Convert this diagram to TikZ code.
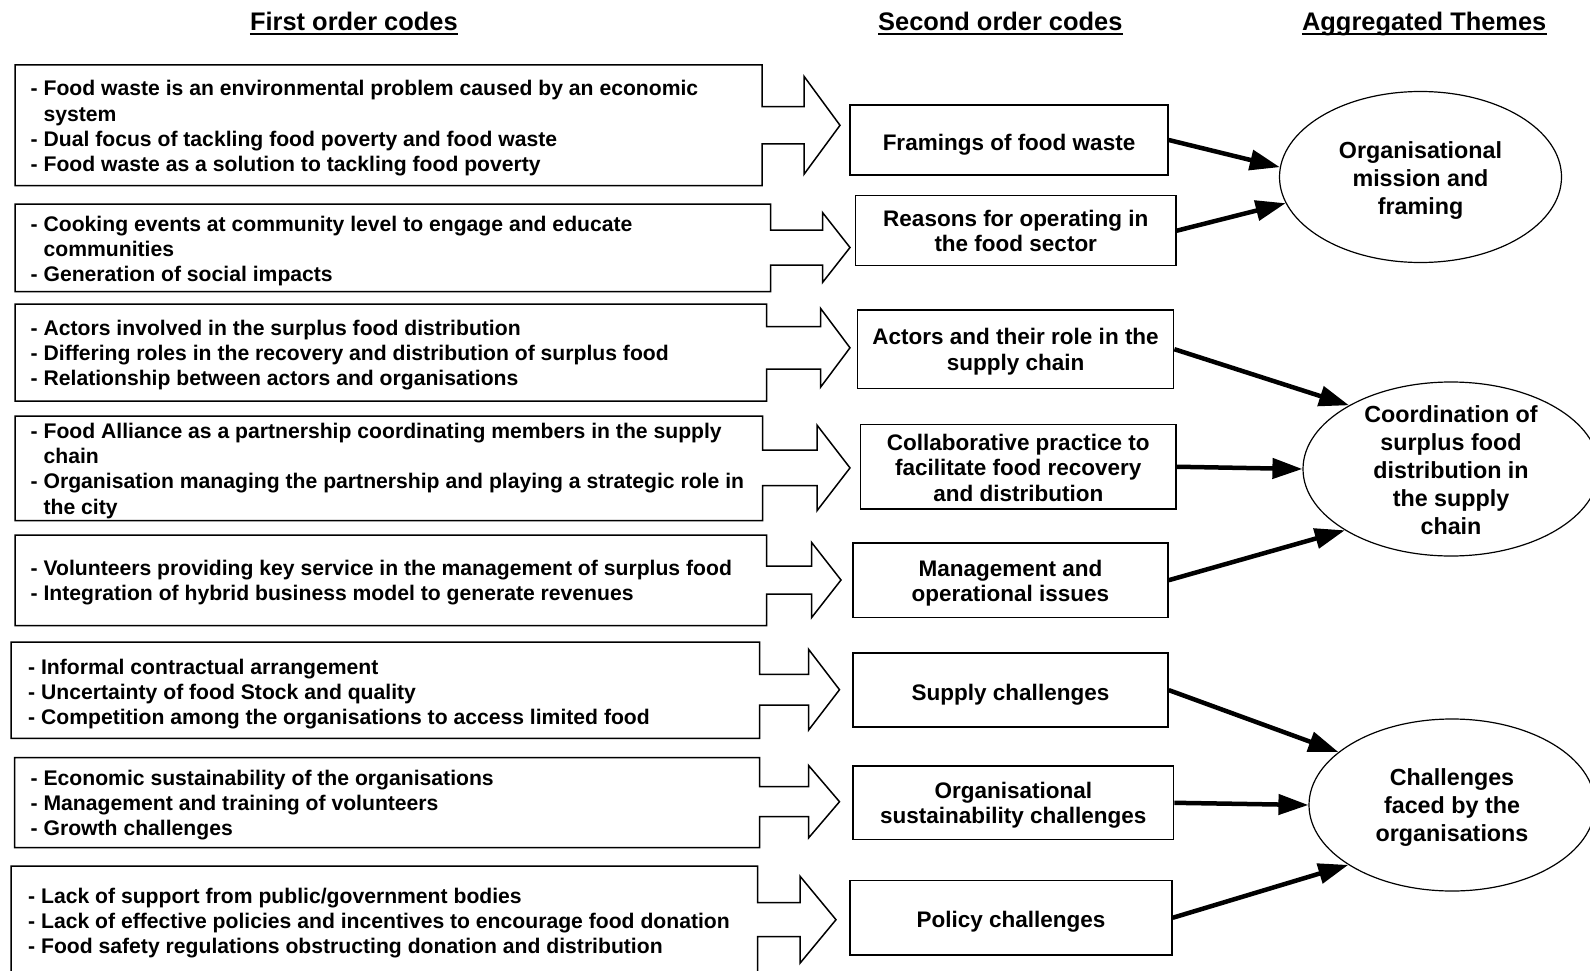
\documentclass[tikz,border=0pt]{standalone}
\usepackage{fontspec}
\setmainfont{Liberation Sans}
\usetikzlibrary{arrows.meta,shapes.geometric}

% block arrow outline: L T R B mid stemhalf headhalf headX tipX
\newcommand\blockarrowshape[9]{%
  \draw[boxline] (#1,#2) -- (#3,#2) -- (#3,{#5-#6}) -- (#8,{#5-#6}) -- (#8,{#5-#7})
    -- (#9,#5) -- (#8,{#5+#7}) -- (#8,{#5+#6}) -- (#3,{#5+#6}) -- (#3,#4) -- (#1,#4) -- cycle;}

\tikzset{
  boxline/.style={draw=black, line width=1.5pt, line join=miter},
  fo/.style={font=\bfseries\fontsize{21.15}{25.2}\selectfont, align=left, inner sep=0pt, anchor=north west},
  sobox/.style={draw, line width=1.5pt, inner sep=0pt},
  sotext/.style={font=\bfseries\fontsize{22.5}{25.6}\selectfont, align=center, inner sep=0pt},
  thbox/.style={draw, ellipse, line width=1.2pt, inner sep=0pt},
  thtext/.style={font=\bfseries\fontsize{23.3}{28}\selectfont, align=center, inner sep=0pt},
  hdr/.style={font=\bfseries\fontsize{25.4}{30}\selectfont, inner sep=0pt, anchor=base},
  conn/.style={line width=4.5pt, -{Triangle[length=30pt,width=20pt]}},
  uline/.style={line width=2.2pt},
}

\begin{document}
\begin{tikzpicture}[x=1pt,y=-1pt]
\useasboundingbox (0,0) rectangle (1590,971);
\fill[white] (0,0) rectangle (1590,971);
\clip (0,0) rectangle (1590,971);

% headers
\node[hdr] (h1) at (353.9,30.4) {First order codes};
\node[hdr] (h2) at (1000.3,30.4) {Second order codes};
\node[hdr] (h3) at (1424.2,30.4) {Aggregated Themes};
\foreach \h in {h1,h2,h3}
  \draw[uline] ([yshift=-3.6pt]\h.base west) -- ([yshift=-3.6pt]\h.base east);

% first order block arrows
\blockarrowshape{15}{65}{762}{185.7}{125.3}{18.7}{49}{804}{840}
\blockarrowshape{15}{204}{770.7}{291.7}{247.5}{17.5}{35}{822.5}{850}
\blockarrowshape{15}{304}{766.6}{401}{347.8}{21.2}{39.5}{820.5}{850}
\blockarrowshape{15}{416}{762.5}{520.5}{467.9}{17.8}{42.8}{817}{850}
\blockarrowshape{15}{535}{766.6}{625.6}{580}{14}{37.7}{811.5}{841}
\blockarrowshape{11}{642}{759.5}{738.3}{689.7}{15.3}{40.5}{808.5}{839.5}
\blockarrowshape{14.5}{757.5}{759.5}{847.5}{801.7}{15}{36.3}{808.5}{839.5}
\blockarrowshape{11}{866}{757.5}{995}{919.7}{17}{43.5}{800}{836}

% first order texts
\node[fo] (f1) at (30.5,80.3) {- Food waste is an environmental problem caused by an economic\\\phantom{- }system\\- Dual focus of tackling food poverty and food waste\\- Food waste as a solution to tackling food poverty};
\node[fo] (f2) at (30.5,215.7) {- Cooking events at community level to engage and educate\\\phantom{- }communities\\- Generation of social impacts};
\node[fo] (f3) at (30.5,320) {- Actors involved in the surplus food distribution\\- Differing roles in the recovery and distribution of surplus food\\- Relationship between actors and organisations};
\node[fo] (f4) at (30.5,423) {- Food Alliance as a partnership coordinating members in the supply\\\phantom{- }chain\\- Organisation managing the partnership and playing a strategic role in\\\phantom{- }the city};
\node[fo] (f5) at (30.5,560) {- Volunteers providing key service in the management of surplus food\\- Integration of hybrid business model to generate revenues};
\node[fo] (f6) at (28,658.5) {- Informal contractual arrangement\\- Uncertainty of food Stock and quality\\- Competition among the organisations to access limited food};
\node[fo] (f7) at (30.5,770) {- Economic sustainability of the organisations\\- Management and training of volunteers\\- Growth challenges};
\node[fo] (f8) at (28,887.5) {- Lack of support from public/government bodies\\- Lack of effective policies and incentives to encourage food donation\\- Food safety regulations obstructing donation and distribution};

% second order codes (boxes)
\node[sobox, minimum width=318pt, minimum height=70pt] (s1) at (1009,140) {};
\node[sobox, minimum width=320.5pt, minimum height=70pt] (s2) at (1015.75,230.7) {};
\node[sobox, minimum width=316pt, minimum height=78.3pt] (s3) at (1015.6,349.2) {};
\node[sobox, minimum width=315.5pt, minimum height=84.5pt] (s4) at (1018.25,466.75) {};
\node[sobox, minimum width=315.2pt, minimum height=74.4pt] (s5) at (1010.4,580.2) {};
\node[sobox, minimum width=315pt, minimum height=74.2pt] (s6) at (1010.5,690.1) {};
\node[sobox, minimum width=320.6pt, minimum height=73.2pt] (s7) at (1013.3,802.8) {};
\node[sobox, minimum width=322pt, minimum height=74.5pt] (s8) at (1011,917.75) {};
% second order codes (texts)
\node[sotext] (s1t) at ([yshift=-4.3pt]s1.center) {Framings of food waste};
\node[sotext] (s2t) at ([yshift=-0.3pt]s2.center) {Reasons for operating in\\the food sector};
\node[sotext] (s3t) at ([yshift=-2.4pt]s3.center) {Actors and their role in the\\supply chain};
\node[sotext] (s4t) at ([yshift=-1pt]s4.center) {Collaborative practice to\\facilitate food recovery\\and distribution};
\node[sotext] (s5t) at ([yshift=-2.8pt]s5.center) {Management and\\operational issues};
\node[sotext] (s6t) at ([yshift=-4.2pt]s6.center) {Supply challenges};
\node[sotext] (s7t) at ([yshift=-2.6pt]s7.center) {Organisational\\sustainability challenges};
\node[sotext] (s8t) at ([yshift=-4.2pt]s8.center) {Policy challenges};

% aggregated themes
\node[thbox, minimum width=282pt, minimum height=171pt] (e1) at (1420.5,177) {};
\node[thbox, minimum width=296pt, minimum height=174pt] (e2) at (1451,469) {};
\node[thbox, minimum width=286pt, minimum height=172pt] (e3) at (1452,805) {};
\node[thtext] (e1t) at ([yshift=-3.3pt]e1.center) {Organisational\\mission and\\framing};
\node[thtext] (e2t) at ([yshift=-1pt]e2.center) {Coordination of\\surplus food\\distribution in\\the supply\\chain};
\node[thtext] (e3t) at ([yshift=-3pt]e3.center) {Challenges\\faced by the\\organisations};

% connectors
\draw[conn] (s1.east) -- (e1.176);
\draw[conn] (s2.east) -- (e1.191);
\draw[conn] (s3.east) -- (e2.148);
\draw[conn] (s4.east) -- (e2.west);
\draw[conn] (s5.east) -- (e2.210);
\draw[conn] (s6.east) -- (e3.155);
\draw[conn] (s7.east) -- (e3.west);
\draw[conn] (s8.east) -- (e3.210);
\end{tikzpicture}
\end{document}
